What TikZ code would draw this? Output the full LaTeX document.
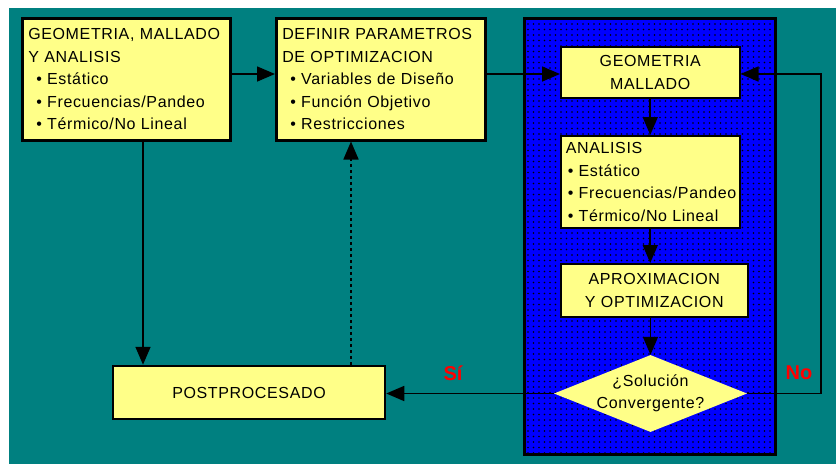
\documentclass[tikz,border=0pt]{standalone}
\usepackage{fontspec}
\setmainfont{Liberation Sans}
\newfontfamily\diafont{Liberation Sans}[LetterSpace=4]
\usetikzlibrary{arrows.meta,shapes.geometric,patterns.meta}
\definecolor{teal0}{RGB}{0,128,128}
\definecolor{blue0}{RGB}{0,0,255}
\definecolor{yel}{RGB}{255,255,136}
\definecolor{red0}{RGB}{255,0,0}
\newcommand{\txt}{\diafont\fontsize{16}{22.5}\selectfont}
\newcommand{\bul}[1]{\hspace*{8pt}\textbullet\ #1}
\begin{document}
\begin{tikzpicture}[x=1pt,y=-1pt,
  bigbox/.style={draw=black, fill=yel, line width=2.5pt, inner xsep=6pt, inner ysep=0pt,
     anchor=north west, font=\txt, align=left},
  smallbox/.style={draw=black, fill=yel, line width=1.5pt, inner xsep=5pt, inner ysep=0pt,
     anchor=north west, font=\txt},
  conn/.style={line width=1.6pt, draw=black, -{Triangle[length=18pt,width=15pt]}},
  lbl/.style={text=red0, font=\fontsize{20}{24}\selectfont\bfseries}
]
\useasboundingbox (0,0) rectangle (836,464);
\fill[white] (0,0) rectangle (836,464);
\fill[teal0] (9,8) rectangle (836,464);

% blue panel
\node[draw=black, line width=2.5pt, fill=blue0, anchor=north west, inner sep=0pt,
      minimum width=251pt, minimum height=436pt,
      postaction={pattern={Dots[distance=5.5pt,radius=0.9pt]}, pattern color=black}]
      (panel) at (523,17) {};

% boxes
\node[bigbox, text width=196pt, minimum width=208pt, minimum height=122pt] (box1) at (21,17)
  {GEOMETRIA, MALLADO\\Y ANALISIS\\\bul{Estático}\\\bul{Frecuencias/Pandeo}\\\bul{Térmico/No Lineal}};
\node[bigbox, text width=197pt, minimum width=209pt, minimum height=122pt] (box2) at (275,17)
  {DEFINIR PARAMETROS\\DE OPTIMIZACION\\\bul{Variables de Diseño}\\\bul{Función Objetivo}\\\bul{Restricciones}};
\node[smallbox, align=center, text width=169pt, minimum width=179pt, minimum height=51pt] (geo) at (560,46)
  {GEOMETRIA\\MALLADO};
\node[smallbox, align=left, text width=169pt, minimum width=179pt, minimum height=92pt] (ana) at (560,135)
  {ANALISIS\\\hspace*{-6pt}\bul{Estático}\\\hspace*{-6pt}\bul{Frecuencias/Pandeo}\\\hspace*{-6pt}\bul{Térmico/No Lineal}};
\node[smallbox, align=center, text width=177pt, minimum width=187pt, minimum height=53pt] (apr) at (560,263)
  {APROXIMACION\\Y OPTIMIZACION};
\node[diamond, fill=yel, inner sep=0pt, minimum width=193pt, minimum height=77pt] (dia) at (650.5,393.5) {};
\node[font=\txt, align=center] (diatext) at (dia.center) {¿Solución\\Convergente?};
\node[bigbox, anchor=center, align=center, minimum width=272pt, minimum height=53pt] (post) at (249,392.5)
  {POSTPROCESADO};

% helper coordinates
\coordinate (rowy) at (0,74);
\coordinate (downx) at (143,0);
\coordinate (dashx) at (351,0);
\coordinate (loopx) at (821,0);

% connectors
\draw[conn] (box1.east |- rowy) -- (box2.west |- rowy);
\draw[conn] (box2.east |- rowy) -- (geo.west |- rowy);
\draw[conn] (geo.south) -- (ana.north);
\draw[conn] (ana.south) -- (ana.south |- apr.north);
\draw[conn] (dia.north |- apr.south) -- (dia.north);
\draw[conn] (dia.west) -- (dia.west -| post.east);
\draw[conn] (dia.east) -- (dia.east -| loopx) -- (loopx |- rowy) -- (geo.east |- rowy);
\draw[conn] (box1.south -| downx) -- (post.north -| downx);
\draw[conn, dash pattern=on 3pt off 3pt] (post.north -| dashx) -- (box2.south -| dashx);

% labels
\node[lbl] (si) at (453,373) {Sí};
\node[lbl] (no) at (799,373) {No};
\end{tikzpicture}
\end{document}
